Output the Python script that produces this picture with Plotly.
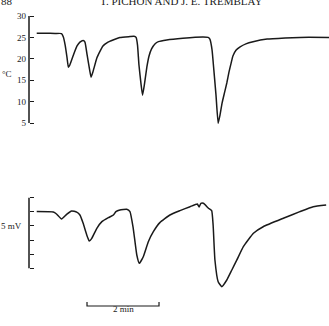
import plotly.graph_objects as go

# Time in minutes
temp_t = [0.02, 0.25, 0.53, 0.71, 0.76, 0.81, 0.86, 0.90, 0.94, 1.04, 1.14, 1.22, 1.31, 1.36, 1.42, 1.49,
          1.53, 1.58, 1.69, 1.78, 1.86, 2.00, 2.14, 2.33, 2.61, 2.72, 2.78, 2.82, 2.86, 2.92, 2.96, 3.01,
          3.08, 3.14, 3.21, 3.31, 3.40, 3.63, 4.08, 4.64, 4.78, 4.83, 4.89, 4.94, 5.00, 5.06, 5.11, 5.17,
          5.24, 5.30, 5.36, 5.42, 5.47, 5.56, 5.67, 5.83, 6.03, 6.42, 6.92, 7.33, 8.14]
temp_c = [25.96, 25.96, 25.93, 25.9, 25.1, 23.2, 20.4, 18.0, 18.55, 20.9, 23.0, 23.9, 24.3, 23.9, 20.9, 17.4,
          15.7, 16.9, 20.2, 21.8, 23.0, 23.9, 24.4, 25.0, 25.2, 25.26, 25.0, 23.2, 18.55, 13.9, 11.5, 13.9,
          18.1, 20.65, 22.3, 23.5, 24.0, 24.4, 24.8, 25.1, 25.0, 24.6, 22.1, 17.4, 11.5, 4.93, 6.8, 9.7,
          12.2, 14.35, 16.9, 19.0, 20.65, 22.05, 22.8, 23.5, 24.0, 24.6, 24.86, 25.0, 25.0]

mv_t = [0.02, 0.48, 0.57, 0.71, 0.85, 0.99, 1.13, 1.22, 1.31, 1.41, 1.48, 1.55, 1.69, 1.83, 2.01, 2.15,
        2.22, 2.33, 2.52, 2.61, 2.70, 2.80, 2.87, 2.98, 3.12, 3.26, 3.44, 3.72, 4.00, 4.28, 4.48, 4.53,
        4.58, 4.65, 4.79, 4.88, 4.92, 4.97, 5.06, 5.16, 5.30, 5.44, 5.58, 5.76, 6.04, 6.31, 6.87, 7.33,
        7.70, 8.06]
mv_v = [4.01, 3.98, 3.84, 3.49, 3.82, 4.06, 3.98, 3.77, 3.18, 2.36, 1.93, 2.12, 2.83, 3.30, 3.58, 3.77,
        4.01, 4.13, 4.18, 4.01, 2.85, 0.94, 0.35, 0.82, 1.88, 2.59, 3.23, 3.77, 4.08, 4.36, 4.55, 4.34,
        4.60, 4.60, 4.25, 4.08, 3.06, 0.59, -0.95, -1.30, -0.83, -0.12, 0.59, 1.53, 2.48, 2.94, 3.54, 4.01,
        4.36, 4.48]

temp_ticks = [5, 10, 15, 20, 25, 30]
mv_ticks = [0, 1, 2, 3, 4, 5]

W, H = 329, 326
AX_X = 29 / W
INK = "#1a1a1a"
FONT = "Liberation Serif"

fig = go.Figure()
fig.add_trace(go.Scatter(x=temp_t, y=temp_c, mode="lines", xaxis="x", yaxis="y",
                         line=dict(color=INK, width=1.5, shape="spline", smoothing=0.4),
                         showlegend=False, hoverinfo="skip"))
fig.add_trace(go.Scatter(x=mv_t, y=mv_v, mode="lines", xaxis="x", yaxis="y2",
                         line=dict(color=INK, width=1.5, shape="spline", smoothing=0.4),
                         showlegend=False, hoverinfo="skip"))

fig.update_layout(
    width=W, height=H,
    margin=dict(l=0, r=0, t=0, b=0, autoexpand=False),
    paper_bgcolor="white", plot_bgcolor="white",
    xaxis=dict(domain=[0, 1], range=[-1, 8.139], visible=False, fixedrange=True),
    yaxis=dict(domain=[1 - 130 / H, 1 - 8 / H], range=[3.364, 31.87], anchor="free", position=AX_X,
               tickvals=temp_ticks, ticktext=[str(v) for v in temp_ticks], ticks="inside", ticklen=4,
               tickwidth=1.3, tickcolor=INK, showline=False, showgrid=False, zeroline=False,
               automargin=False, ticklabelstandoff=3,
               tickfont=dict(family=FONT, size=9, color=INK)),
    yaxis2=dict(domain=[1 - 295 / H, 1 - 190 / H], range=[-1.89, 5.54], anchor="free", position=AX_X,
                tickvals=mv_ticks, showticklabels=False, ticks="inside", ticklen=4, automargin=False,
                tickwidth=1.3, tickcolor=INK, showline=False, showgrid=False, zeroline=False),
    font=dict(family=FONT, color=INK),
)

# axis lines spanning only tick extent
fig.add_shape(type="line", xref="paper", yref="y", x0=AX_X, x1=AX_X, y0=temp_ticks[0], y1=temp_ticks[-1],
              line=dict(color=INK, width=1.5))
fig.add_shape(type="line", xref="paper", yref="y2", x0=AX_X, x1=AX_X, y0=mv_ticks[0], y1=mv_ticks[-1],
              line=dict(color=INK, width=1.5))

# scale bar 2 min
sb0, sb1 = 1.417, 3.417
yb, yt = 1 - 306 / H, 1 - 302 / H
fig.add_shape(type="path", xref="x", yref="paper",
              path=f"M {sb0} {yt} L {sb0} {yb} L {sb1} {yb} L {sb1} {yt}",
              line=dict(color=INK, width=1.2))
fig.add_annotation(x=(sb0 + sb1) / 2, y=1 - 316 / H, xref="x", yref="paper", text="2 min",
                   showarrow=False, font=dict(family=FONT, size=9, color=INK))

fig.add_annotation(x=13 / W, y=1 - 68 / H, xref="paper", yref="paper", xanchor="right", text="°C",
                   showarrow=False, borderpad=0, font=dict(family=FONT, size=9, color=INK))
fig.add_annotation(x=23 / W, y=1 - 232 / H, xref="paper", yref="paper", xanchor="right", text="5 mV",
                   showarrow=False, borderpad=0, font=dict(family=FONT, size=9, color=INK))

# page header, mostly cut off at top
fig.add_annotation(x=0, y=1 + 6 / H, xref="paper", yref="paper", xanchor="left", text="88", showarrow=False,
                   borderpad=0, font=dict(family=FONT, size=11, color=INK))
fig.add_annotation(x=181 / W, y=1 + 6 / H, xref="paper", yref="paper", text="T. PICHON AND J. E. TREMBLAY",
                   showarrow=False, borderpad=0, font=dict(family=FONT, size=11, color=INK))

fig.write_html("out.html")
